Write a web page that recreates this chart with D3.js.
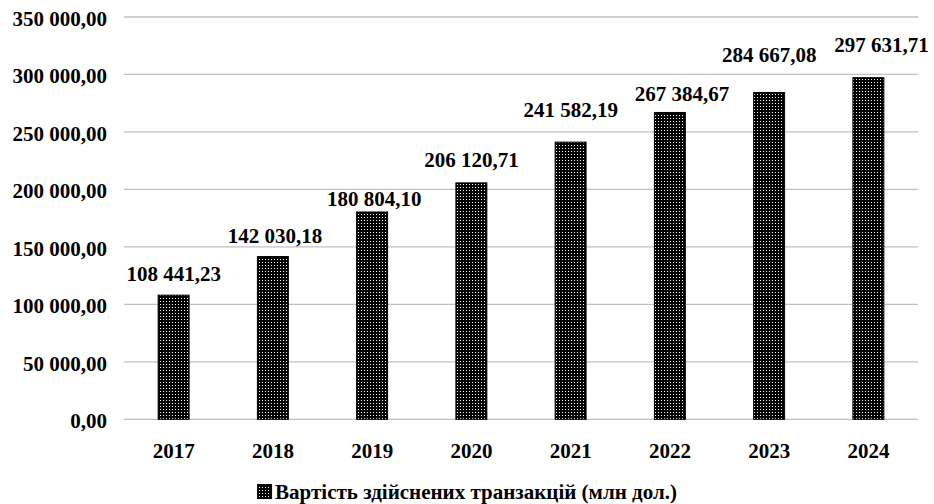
<!DOCTYPE html>
<html>
<head>
<meta charset="utf-8">
<script src="https://cdn.jsdelivr.net/npm/d3@7"></script>
<style>
  body { margin: 0; background: #fff; }
</style>
</head>
<body>
<div id="chart"></div>
<script>
// Data
const years = ['2017', '2018', '2019', '2020', '2021', '2022', '2023', '2024']
const values = [108441.23, 142030.18, 180804.10, 206120.71, 241582.19, 267384.67, 284667.08, 297631.71]
const yTicks = [0, 50000, 100000, 150000, 200000, 250000, 300000, 350000]
const seriesName = 'Вартість здійснених транзакцій (млн дол.)'

// Labels were hand-placed in the original, so nudge them a bit
const labelDy = [-14, -13, -5, -15, -25, -11, -30, -25]
const labelDx = [0, 2, 2, 0, 0, 12, 0, 13]

const width = 934
const height = 504
const plotLeft = 124
const plotRight = 918
const plotTop = 17
const plotBottom = 419.3

// Number like "108 441,23"
function fmt (v) {
  const parts = v.toFixed(2).split('.')
  const int = parts[0].replace(/\B(?=(\d{3})+(?!\d))/g, ' ')
  return int + ',' + parts[1]
}

const svg = d3.select('#chart')
  .append('svg')
  .attr('width', width)
  .attr('height', height)
  .style('font-family', '"Liberation Serif", "Times New Roman", serif')
  .style('font-weight', '700')

// Dotted fill for the bars
const pat = svg.append('defs')
  .append('pattern')
  .attr('id', 'dots')
  .attr('patternUnits', 'userSpaceOnUse')
  .attr('width', 3)
  .attr('height', 3)
pat.append('rect').attr('width', 3).attr('height', 3).attr('fill', '#000')
pat.append('rect').attr('x', 1).attr('y', 1).attr('width', 1).attr('height', 1).attr('fill', '#fff')

const x = d3.scaleBand()
  .domain(years)
  .range([plotLeft, plotRight])
  .paddingInner(0.678)
  .paddingOuter(0.339)

const y = d3.scaleLinear()
  .domain([0, 350000])
  .range([plotBottom, plotTop])

// Gridlines
svg.append('g')
  .selectAll('line')
  .data(yTicks)
  .enter()
  .append('line')
  .attr('x1', plotLeft)
  .attr('x2', plotRight)
  .attr('y1', d => y(d))
  .attr('y2', d => y(d))
  .attr('stroke', '#c0c0c0')
  .attr('stroke-width', 1.3)

// Y tick labels
svg.append('g')
  .selectAll('text')
  .data(yTicks)
  .enter()
  .append('text')
  .attr('x', 107)
  .attr('y', d => y(d) + 9)
  .attr('text-anchor', 'end')
  .attr('font-size', 21)
  .text(d => fmt(d))

// Bars
svg.append('g')
  .selectAll('rect')
  .data(values)
  .enter()
  .append('rect')
  .attr('x', (d, i) => x(years[i]) + 0.5)
  .attr('y', d => y(d) + 0.5)
  .attr('width', x.bandwidth() - 1)
  .attr('height', d => plotBottom - y(d) - 0.5)
  .attr('fill', 'url(#dots)')
  .attr('stroke', '#000')
  .attr('stroke-width', 1)

// Value labels
svg.append('g')
  .selectAll('text')
  .data(values)
  .enter()
  .append('text')
  .attr('x', (d, i) => x(years[i]) + x.bandwidth() / 2 + labelDx[i])
  .attr('y', (d, i) => y(d) + labelDy[i])
  .attr('text-anchor', 'middle')
  .attr('font-size', 21)
  .text(d => fmt(d))

// X labels
svg.append('g')
  .selectAll('text')
  .data(years)
  .enter()
  .append('text')
  .attr('x', d => x(d) + x.bandwidth() / 2)
  .attr('y', 458)
  .attr('text-anchor', 'middle')
  .attr('font-size', 21)
  .text(d => d)

// Legend, centred on the whole chart width
const legend = svg.append('g')
const legendText = legend.append('text')
  .attr('y', 499)
  .attr('font-size', 21)
  .text(seriesName)
const textW = legendText.node().getComputedTextLength()
const keySize = 14
const legendW = keySize + 4 + textW
const legendX = (width - legendW) / 2
legend.append('rect')
  .attr('x', legendX + 0.5)
  .attr('y', 484.5)
  .attr('width', keySize)
  .attr('height', keySize)
  .attr('fill', 'url(#dots)')
  .attr('stroke', '#000')
legendText.attr('x', legendX + keySize + 4)
</script>
</body>
</html>
